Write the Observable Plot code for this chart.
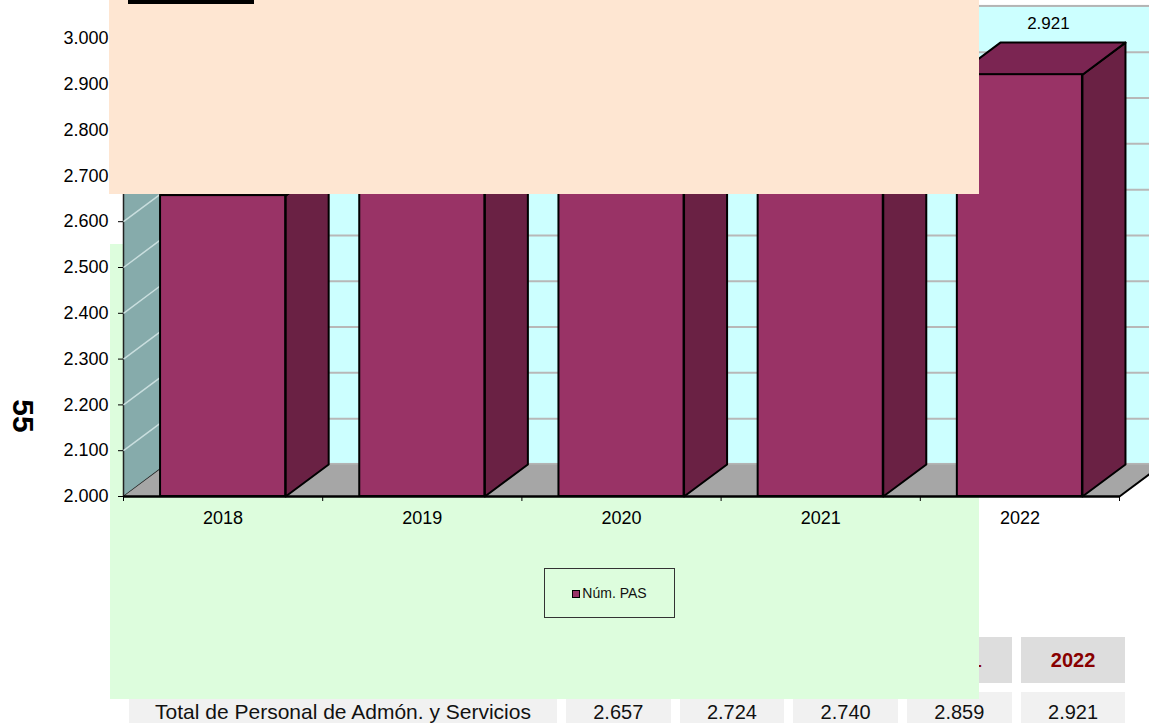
<!DOCTYPE html>
<html>
<head>
<meta charset="utf-8">
<script src="https://cdn.jsdelivr.net/npm/d3@7"></script>
<script src="https://cdn.jsdelivr.net/npm/@observablehq/plot@0.6"></script>
<style>
  html, body { margin: 0; padding: 0; background: #fff; overflow: hidden; }
  #page { position: relative; width: 1149px; height: 723px; overflow: hidden; font-family: "Liberation Sans", Arial, sans-serif; }
  .abs { position: absolute; }
  .cell { position: absolute; display: flex; align-items: center; justify-content: center; font-size: 20px; color: #111; white-space: nowrap; }
</style>
</head>
<body>
<div id="page"></div>
<script>
// ---- data ----
const years = ["2018", "2019", "2020", "2021", "2022"];
const values = [2657, 2724, 2740, 2859, 2921];
const yTicks = [2000, 2100, 2200, 2300, 2400, 2500, 2600, 2700, 2800, 2900, 3000];
const seriesName = "Núm. PAS";
const rowLabel = "Total de Personal de Admón. y Servicios";
const pageNumber = "55";

// ---- styles / 3D geometry ----
const DX = 0.216;   // depth along x (in category units)
const DY = 70;      // depth along y (in value units)
const PAD = 0.186;  // gap each side of bar inside category slot
const FRONT = "#993366", SIDE = "#6a2144", TOP = "#7b2552";

const N = years.length;
const y0 = yTicks[0], y1 = yTicks[yTicks.length - 1];
const fmt = d => d3.format(",")(d).replace(/,/g, ".");

const bars = years.map((year, i) => ({year, i, value: values[i], x1: i + PAD, x2: i + 1 - PAD}));
const poly = (id, pts) => pts.concat([pts[0]]).map(([x, y]) => ({id, x, y}));

const sideFaces = bars.flatMap(b => poly(b.year, [[b.x2, y0], [b.x2 + DX, y0 + DY], [b.x2 + DX, b.value + DY], [b.x2, b.value]]));
const topFaces = bars.flatMap(b => poly(b.year, [[b.x1, b.value], [b.x2, b.value], [b.x2 + DX, b.value + DY], [b.x1 + DX, b.value + DY]]));
const leftWall = poly("left", [[0, y0], [DX, y0 + DY], [DX, y1 + DY], [0, y1]]);
const floor = poly("floor", [[0, y0], [N, y0], [N + DX, y0 + DY], [DX, y0 + DY]]);

const chart = Plot.plot({
  width: 1149,
  height: 560,
  marginLeft: 123,
  marginRight: 30,
  marginTop: 38,
  marginBottom: 64,
  style: {fontFamily: "Liberation Sans, Arial, sans-serif", fontSize: "18px", background: "transparent", overflow: "visible", color: "#000"},
  x: {type: "linear", domain: [0, N]},
  y: {domain: [y0, y1]},
  marks: [
    // back wall
    Plot.rect([0], {x1: DX, x2: N + DX, y1: y0 + DY, y2: y1 + DY, fill: "#ccffff", stroke: "#b4b4b4", strokeWidth: 2}),
    Plot.ruleY(yTicks.slice(1, -1), {y: d => d + DY, x1: DX, x2: N + DX, stroke: "#b8b8b8", strokeWidth: 2}),
    // left wall
    Plot.line(leftWall, {x: "x", y: "y", z: "id", fill: "#86abab", stroke: "#222", strokeWidth: 1.5}),
    Plot.link(yTicks.slice(1, -1), {x1: 0, y1: d => d, x2: DX, y2: d => d + DY, stroke: "#c9dede", strokeWidth: 1.5}),
    // floor
    Plot.line(floor, {x: "x", y: "y", z: "id", fill: "#a6a6a6", stroke: "none"}),
    Plot.link([0], {x1: 0, y1: y0, x2: N, y2: y0, stroke: "#000", strokeWidth: 2.5}),
    Plot.link([0], {x1: N, y1: y0, x2: N + DX, y2: y0 + DY, stroke: "#000", strokeWidth: 2}),
    // bars
    Plot.line(sideFaces, {x: "x", y: "y", z: "id", fill: SIDE, stroke: "#000", strokeWidth: 2}),
    Plot.line(topFaces, {x: "x", y: "y", z: "id", fill: TOP, stroke: "#000", strokeWidth: 2}),
    Plot.rect(bars, {x1: "x1", x2: "x2", y1: y0, y2: "value", fill: FRONT, stroke: "#000", strokeWidth: 2}),
    // axes
    Plot.axisY({ticks: yTicks, tickFormat: fmt, tickSize: 5, tickPadding: 10, stroke: "#000"}),
    Plot.axisX({ticks: d3.range(N + 1), tickFormat: () => "", tickSize: 5, stroke: "#000"}),
    Plot.axisX({ticks: d3.range(N).map(i => i + 0.5), tickFormat: d => years[Math.floor(d)], tickSize: 0, tickPadding: 15}),
    // value labels
    Plot.text(bars, {x: b => b.i + 0.5 + DX / 2, y: b => b.value + DY, text: b => fmt(b.value), dx: 7, dy: -19, fontSize: 17, fill: "#000"})
  ]
});

const page = d3.select("#page");

// ---- table ----
const cellW = 104.5, pitch = 113.7, firstX = 566;
const headTop = 637, headH = 46, rowTop = 692, rowH = 40;
years.forEach((yr, i) => {
  page.append("div").attr("class", "cell")
    .style("left", (firstX + i * pitch) + "px").style("top", headTop + "px")
    .style("width", cellW + "px").style("height", headH + "px")
    .style("background", "#dddddd").style("color", "#880000").style("font-weight", "bold")
    .text(yr);
  page.append("div").attr("class", "cell")
    .style("left", (firstX + i * pitch) + "px").style("top", rowTop + "px")
    .style("width", cellW + "px").style("height", rowH + "px")
    .style("background", "#f1f1f1")
    .text(fmt(values[i]));
});
page.append("div").attr("class", "cell")
  .style("left", "129px").style("top", headTop + "px").style("width", "428px").style("height", headH + "px")
  .style("background", "#dddddd");
page.append("div").attr("class", "cell")
  .style("left", "129px").style("top", rowTop + "px").style("width", "428px").style("height", rowH + "px")
  .style("background", "#f1f1f1").style("font-size", "21px")
  .text(rowLabel);

// ---- green panel behind chart ----
page.append("div").attr("class", "abs")
  .style("left", "110px").style("top", "244px").style("width", "869px").style("height", "455px")
  .style("background", "#ddfddd");

// ---- chart ----
const holder = page.append("div").attr("class", "abs").style("left", "0px").style("top", "0px");
holder.node().appendChild(chart);

// ---- legend ----
const legend = page.append("div").attr("class", "abs")
  .style("left", "544px").style("top", "568px").style("width", "129px").style("height", "48px")
  .style("border", "1px solid #333").style("display", "flex").style("align-items", "center").style("justify-content", "center")
  .style("font-size", "14px").style("color", "#111");
legend.append("span").style("display", "inline-block").style("width", "6px").style("height", "6px")
  .style("background", FRONT).style("border", "1px solid #000").style("margin-right", "2px").style("margin-top", "1px");
legend.append("span").text(seriesName);

// ---- peach overlay ----
page.append("div").attr("class", "abs")
  .style("left", "109px").style("top", "0px").style("width", "870px").style("height", "194px")
  .style("background", "#fee6d2");
page.append("div").attr("class", "abs")
  .style("left", "128px").style("top", "0px").style("width", "126px").style("height", "4px")
  .style("background", "#000");

// ---- page number ----
page.append("div").attr("class", "abs")
  .style("left", "3px").style("top", "398px").style("width", "40px").style("height", "36px")
  .style("display", "flex").style("align-items", "center").style("justify-content", "center")
  .style("font-size", "30px").style("font-weight", "bold").style("transform", "rotate(90deg)")
  .text(pageNumber);
</script>
</body>
</html>
